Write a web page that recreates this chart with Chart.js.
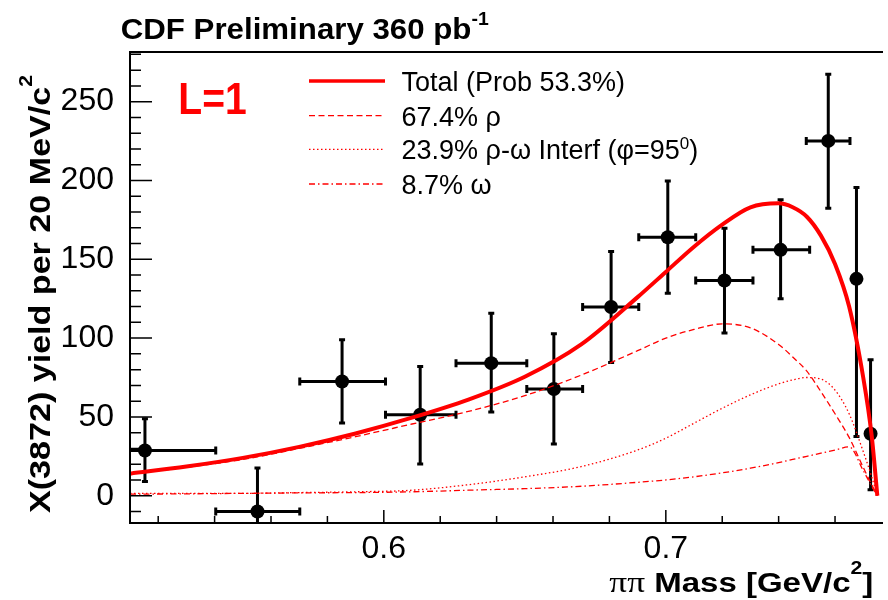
<!DOCTYPE html>
<html>
<head>
<meta charset="utf-8">
<title>X(3872) pi pi mass, L=1</title>
<script src="https://cdn.jsdelivr.net/npm/chart.js@4"></script>
<style>
    html, body { margin: 0; padding: 0; background: #fff; overflow: hidden; }
    #wrap { width: 888px; height: 600px; }
</style>
</head>
<body>
<div id="wrap"><canvas id="mass-chart" width="888" height="600"></canvas></div>
<script>
(function () {
    "use strict";

    // Data points: bin centre, yield and error bar ends
    var massPts   = [0.5153, 0.5552, 0.5852, 0.6129, 0.6381, 0.6603, 0.6806, 0.7007, 0.7208, 0.7407, 0.7576, 0.7676, 0.7726];
    var yieldPts  = [28.7, -10, 72.5, 51.4, 84.1, 67.7, 119.7, 164, 136.5, 156, 225.1, 137.6, 39.3];
    var massLo    = [0.49, 0.5404, 0.5702, 0.6006, 0.6256, 0.6507, 0.6705, 0.6904, 0.7106, 0.7309, 0.7498, 0.7676, 0.7726];
    var massHi    = [0.5404, 0.5702, 0.6006, 0.6256, 0.6507, 0.6705, 0.6904, 0.7106, 0.7309, 0.7510, 0.7653, 0.7676, 0.7726];
    var yieldLo   = [9.1, -40, 46.1, 20.1, 53.1, 32.8, 84.5, 128.5, 103.2, 124.9, 182.4, 37.6, 3.8];
    var yieldHi   = [48.8, 17.6, 98.9, 82, 115.8, 102.7, 154.9, 199.7, 169.7, 187.7, 267.4, 195.5, 86.2];

    // Fit curves
    var curveMass = [0.51, 0.53, 0.55, 0.57, 0.59, 0.61, 0.63, 0.65, 0.67, 0.69, 0.70, 0.71, 0.72, 0.73, 0.74, 0.745, 0.75, 0.755, 0.76, 0.765, 0.77, 0.773, 0.775];
    var totalFit  = [14, 18.5, 24, 31, 39.5, 49.5, 61, 75.5, 96, 126, 142, 158, 172, 183, 185.5, 183, 177, 165, 147, 120, 75, 38, 0];
    var rhoFit    = [14, 18, 23, 30, 37.5, 45.5, 53.5, 63.5, 76.5, 92, 100, 105.5, 109, 106.5, 96, 88, 79, 66, 52, 37, 18, 7, 0];
    var interfFit = [1.5, 1.5, 1.5, 2, 2.5, 3.5, 7, 12, 18.5, 29, 36.5, 46, 55.5, 64, 71, 73.5, 75, 74, 67, 52, 28, 12, 0];
    var omegaFit  = [1, 1.2, 1.5, 1.8, 2, 2.5, 3.5, 4.5, 6, 8.5, 10, 12, 14.5, 17.5, 21, 23, 25, 27, 29, 31, 16, 6, 0];

    // Axis ticks
    var xTickVals = [0.6, 0.7];
    var yTickVals = [0, 50, 100, 150, 200, 250];

    var legendLabels = ["Total (Prob 53.3%)", "67.4% \u03c1", "23.9% \u03c1-\u03c9 Interf (\u03c6=95", "8.7% \u03c9"];

    var RED = "#ff0000";
    var SANS = "'Liberation Sans', Arial, Helvetica, sans-serif";
    var SERIF = "'Liberation Serif', 'Times New Roman', serif";

    function toXY(xs, ys) {
        return xs.map(function (x, i) { return { x: x, y: ys[i] }; });
    }

    // Draw a run of text pieces (superscripts have a rise), stretched to a width if given
    function drawRuns(ctx, runs, x, y, align, width) {
        var total = 0;
        runs.forEach(function (r) {
            ctx.font = r.font;
            r.w = ctx.measureText(r.text).width;
            total += r.w;
        });
        var sx = width ? width / total : 1;
        ctx.save();
        ctx.translate(x, y);
        ctx.scale(sx, 1);
        ctx.textAlign = "left";
        ctx.textBaseline = "alphabetic";
        var cx = align === "right" ? -total : 0;
        runs.forEach(function (r) {
            ctx.font = r.font;
            ctx.fillText(r.text, cx, -(r.rise || 0));
            cx += r.w;
        });
        ctx.restore();
    }

    // Error bars, under the markers
    var errorBars = {
        id: "errorBars",
        beforeDatasetsDraw: function (chart) {
            var ctx = chart.ctx, xs = chart.scales.x, ys = chart.scales.y, a = chart.chartArea;
            ctx.save();
            ctx.beginPath();
            ctx.rect(a.left, a.top, a.right - a.left, a.bottom - a.top);
            ctx.clip();
            ctx.strokeStyle = "#000";
            ctx.lineWidth = 3;
            massPts.forEach(function (m, i) {
                var px = xs.getPixelForValue(m), py = ys.getPixelForValue(yieldPts[i]);
                var x0 = xs.getPixelForValue(massLo[i]), x1 = xs.getPixelForValue(massHi[i]);
                var y0 = ys.getPixelForValue(yieldLo[i]), y1 = ys.getPixelForValue(yieldHi[i]);
                ctx.beginPath();
                ctx.moveTo(px, y0); ctx.lineTo(px, y1);
                ctx.moveTo(px - 3, y0); ctx.lineTo(px + 3, y0);
                ctx.moveTo(px - 3, y1); ctx.lineTo(px + 3, y1);
                if (x1 - x0 > 1) {
                    ctx.moveTo(x0, py); ctx.lineTo(x1, py);
                    ctx.moveTo(x0, py - 4); ctx.lineTo(x0, py + 4);
                    ctx.moveTo(x1, py - 4); ctx.lineTo(x1, py + 4);
                }
                ctx.stroke();
            });
            ctx.restore();
        }
    };

    // Frame, inside ticks, titles and legend
    var decorations = {
        id: "decorations",
        afterDraw: function (chart) {
            var ctx = chart.ctx, xs = chart.scales.x, ys = chart.scales.y, a = chart.chartArea;
            var i, p;
            ctx.save();

            // frame
            ctx.strokeStyle = "#000";
            ctx.lineWidth = 2;
            ctx.beginPath();
            ctx.moveTo(a.right + 2, a.top); ctx.lineTo(a.left, a.top);
            ctx.lineTo(a.left, a.bottom); ctx.lineTo(a.right + 2, a.bottom);
            ctx.stroke();

            // ticks
            ctx.lineWidth = 1.5;
            ctx.beginPath();
            for (i = -1; i <= 28; i++) {
                p = ys.getPixelForValue(i * 10);
                if (p < a.top + 2 || p > a.bottom - 1) continue;
                ctx.moveTo(a.left, p);
                ctx.lineTo(a.left + (i % 5 === 0 ? 22 : 11), p);
            }
            for (i = 26; i <= 38; i++) {
                p = xs.getPixelForValue(i * 0.02);
                ctx.moveTo(p, a.bottom);
                ctx.lineTo(p, a.bottom - (i % 5 === 0 ? 13 : 7));
            }
            ctx.stroke();

            ctx.fillStyle = "#000";

            // top title
            drawRuns(ctx, [
                { text: "CDF Preliminary 360 pb", font: "bold 29px " + SANS },
                { text: "-1", font: "bold 18px " + SANS, rise: 14 }
            ], 120.7, 39.3, "left", 368);

            // x title
            drawRuns(ctx, [
                { text: "\u03c0\u03c0", font: "30px " + SERIF },
                { text: " Mass [GeV/c", font: "bold 28px " + SANS },
                { text: "2", font: "bold 18px " + SANS, rise: 18 },
                { text: "]", font: "bold 28px " + SANS }
            ], 873.3, 591.7, "right", 264);

            // y title
            ctx.save();
            ctx.translate(50, 513);
            ctx.rotate(-Math.PI / 2);
            drawRuns(ctx, [
                { text: "X(3872) yield per 20 MeV/c", font: "bold 29px " + SANS },
                { text: "2", font: "bold 18px " + SANS, rise: 18 }
            ], 0, 0, "left", 438);
            ctx.restore();

            // L=1 label
            ctx.fillStyle = RED;
            drawRuns(ctx, [{ text: "L=1", font: "bold 44px " + SANS }], 178.3, 114, "left", 68.4);

            // legend
            var rows = [81, 115.7, 149.3, 184];
            var dashes = [[], [6, 3.5], [1.5, 2.5], [6, 3, 1.5, 3]];
            var widths = [3.5, 1.3, 1.3, 1.3];
            rows.forEach(function (y, k) {
                ctx.strokeStyle = RED;
                ctx.lineWidth = widths[k];
                ctx.setLineDash(dashes[k]);
                ctx.beginPath();
                ctx.moveTo(309, y);
                ctx.lineTo(385, y);
                ctx.stroke();
                ctx.setLineDash([]);
                ctx.fillStyle = "#000";
                var runs = [{ text: legendLabels[k], font: "27px " + SANS }];
                if (k === 2) {
                    runs.push({ text: "0", font: "17px " + SANS, rise: 10 });
                    runs.push({ text: ")", font: "27px " + SANS });
                }
                drawRuns(ctx, runs, 401.5, y + 10, "left");
            });

            ctx.restore();
        }
    };

    var ctx1 = document.getElementById("mass-chart").getContext("2d");
    var massChart = new Chart(ctx1, {
        type: "scatter",
        data: {
            datasets: [{
                label: legendLabels[0],
                data: toXY(curveMass, totalFit),
                showLine: true,
                borderColor: RED,
                borderWidth: 4,
                pointRadius: 0,
                cubicInterpolationMode: "monotone"
            },
            {
                label: legendLabels[1],
                data: toXY(curveMass, rhoFit),
                showLine: true,
                borderColor: RED,
                borderWidth: 1.3,
                borderDash: [6, 3.5],
                pointRadius: 0,
                cubicInterpolationMode: "monotone"
            },
            {
                label: legendLabels[2],
                data: toXY(curveMass, interfFit),
                showLine: true,
                borderColor: RED,
                borderWidth: 1.3,
                borderDash: [1.5, 2.5],
                pointRadius: 0,
                cubicInterpolationMode: "monotone"
            },
            {
                label: legendLabels[3],
                data: toXY(curveMass, omegaFit),
                showLine: true,
                borderColor: RED,
                borderWidth: 1.3,
                borderDash: [6, 3, 1.5, 3],
                pointRadius: 0,
                cubicInterpolationMode: "monotone"
            },
            {
                label: "Data",
                data: toXY(massPts, yieldPts),
                showLine: false,
                pointRadius: 7,
                pointBackgroundColor: "#000",
                pointBorderWidth: 0
            }]
        },
        options: {
            responsive: false,
            animation: false,
            devicePixelRatio: 1,
            layout: { padding: { top: 52, right: 0, bottom: 0, left: 0 } },
            plugins: {
                legend: { display: false },
                tooltip: { enabled: false }
            },
            scales: {
                x: {
                    type: "linear",
                    min: 0.51,
                    max: 0.7763,
                    grid: { display: false },
                    border: { display: false },
                    afterBuildTicks: function (s) {
                        s.ticks = xTickVals.map(function (v) { return { value: v }; });
                    },
                    afterFit: function (s) { s.height = 77; },
                    ticks: {
                        color: "#000",
                        font: { family: SANS, size: 32, lineHeight: 1 },
                        padding: 2,
                        maxRotation: 0,
                        autoSkip: false,
                        callback: function (v) { return v.toFixed(1); }
                    }
                },
                y: {
                    type: "linear",
                    min: -17.3,
                    max: 281.5,
                    grid: { display: false },
                    border: { display: false },
                    afterBuildTicks: function (s) {
                        s.ticks = yTickVals.map(function (v) { return { value: v }; });
                    },
                    afterFit: function (s) { s.width = 130; },
                    ticks: {
                        color: "#000",
                        font: { family: SANS, size: 32 },
                        padding: 8,
                        callback: function (v) { return String(v); }
                    }
                }
            }
        },
        plugins: [errorBars, decorations]
    });
})();
</script>
</body>
</html>
